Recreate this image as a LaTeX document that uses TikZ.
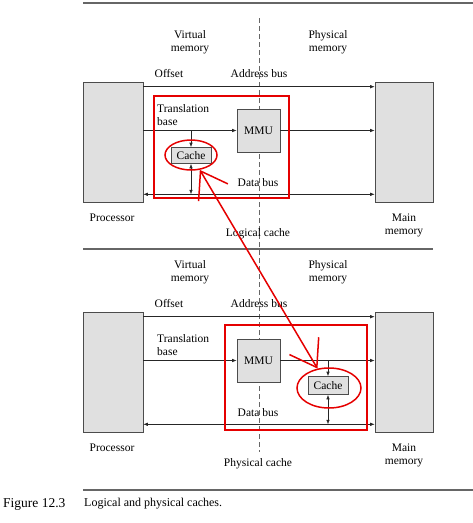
\documentclass[tikz,border=0pt]{standalone}
\usepackage{fontspec}
\setmainfont{Liberation Serif}
\usetikzlibrary{arrows.meta,shapes.geometric}
\begin{document}
\begin{tikzpicture}[x=1pt,y=-1pt,
	font=\fontsize{11.5}{13}\selectfont,
	unit/.style={draw=black!70,fill=black!12,line width=.6pt,inner sep=0pt},
	bus/.style={draw=black!85,line width=.6pt,-{Latex[length=4.5pt,width=3.5pt]}},
	twobus/.style={draw=black!85,line width=.6pt,{Latex[length=4.5pt,width=3.5pt]}-{Latex[length=4.5pt,width=3.5pt]}},
	rule/.style={draw=black!60,line width=1.6pt},
	redline/.style={draw=red!90!black,line width=1.5pt},
	redring/.style={ellipse,redline,inner sep=0pt}]
	\useasboundingbox (0,0) rectangle (473,523);
	%rules
	\draw[rule] (83,3) -- (473,3);
	\draw[rule] (83,249) -- (433,249);
	\draw[rule] (83,490) -- (473,490);
	%virtual / physical divide
	\draw[black!60,line width=.8pt,dash pattern=on 5pt off 3pt] (259,18) -- (259,452);
	%both panels
	\foreach \p/\yo/\lbl in {1/0/Logical cache,2/230/Physical cache}{
		\begin{scope}[yshift=-\yo pt]
			\node[unit,minimum width=60,minimum height=120] (proc\p) at (113,142) {};
			\node[unit,minimum width=58,minimum height=120] (mem\p) at (404,142) {};
			\node[unit,minimum size=43] (mmu\p) at (258.5,130.5) {MMU};
			\coordinate (db\p) at ([yshift=8pt]proc\p.south east);
			% labels
			\node[align=center] at (190,42) {Virtual\\memory};
			\node[align=center] at (328,42) {Physical\\memory};
			\node at (169,74) {Offset};
			\node at (259,74) {Address bus};
			\node[align=left,anchor=west,inner sep=0pt] at (157,115) {Translation\\base};
			\node at (258,183) {Data bus};
			\node at (112,218) {Processor};
			\node[align=center] at (404,225) {Main\\memory};
			\node at (258,234) {\lbl};
			% buses
			\draw[bus] ([yshift=-5pt]proc\p.north east) -- ([yshift=-5pt]mem\p.north west);
			\draw[bus] (proc\p.east |- mmu\p.west) -- (mmu\p.west);
			\draw[bus] (mmu\p.east) -- (mmu\p.east -| mem\p.west);
			\draw[twobus] (db\p) -- (db\p -| mem\p.west);
		\end{scope}
	}
	%logical cache
	\node[unit,minimum width=40,minimum height=16] (cache1) at (191,155.5) {Cache};
	\draw[bus] (cache1.north |- mmu1.west) -- (cache1.north);
	\draw[twobus] (cache1.south) -- (cache1.south |- db1);
	%physical cache
	\node[unit,minimum width=40,minimum height=18] (cache2) at (328,385.5) {Cache};
	\draw[bus] (cache2.north |- mmu2.west) -- (cache2.north);
	\draw[twobus] (cache2.south) -- (cache2.south |- db2);
	%red marks
	\draw[redline] (154,96) rectangle (289,198);
	\draw[redline] (225,325) rectangle (367,430);
	\node[redring,minimum width=52,minimum height=30] (ring1) at (191,155) {};
	\node[redring,minimum width=64,minimum height=40] (ring2) at (329,388) {};
	\draw[redline,{Straight Barb[length=25pt,width=34pt]}-{Straight Barb[length=25pt,width=34pt]}] (ring1) -- (ring2);
	%caption
	\node[anchor=west,inner sep=0pt,font=\fontsize{13.5}{15}\selectfont] at (3,504) {Figure 12.3};
	\node[anchor=west,inner sep=0pt,font=\fontsize{12}{14}\selectfont] at (84,504) {Logical and physical caches.};
\end{tikzpicture}
\end{document}
